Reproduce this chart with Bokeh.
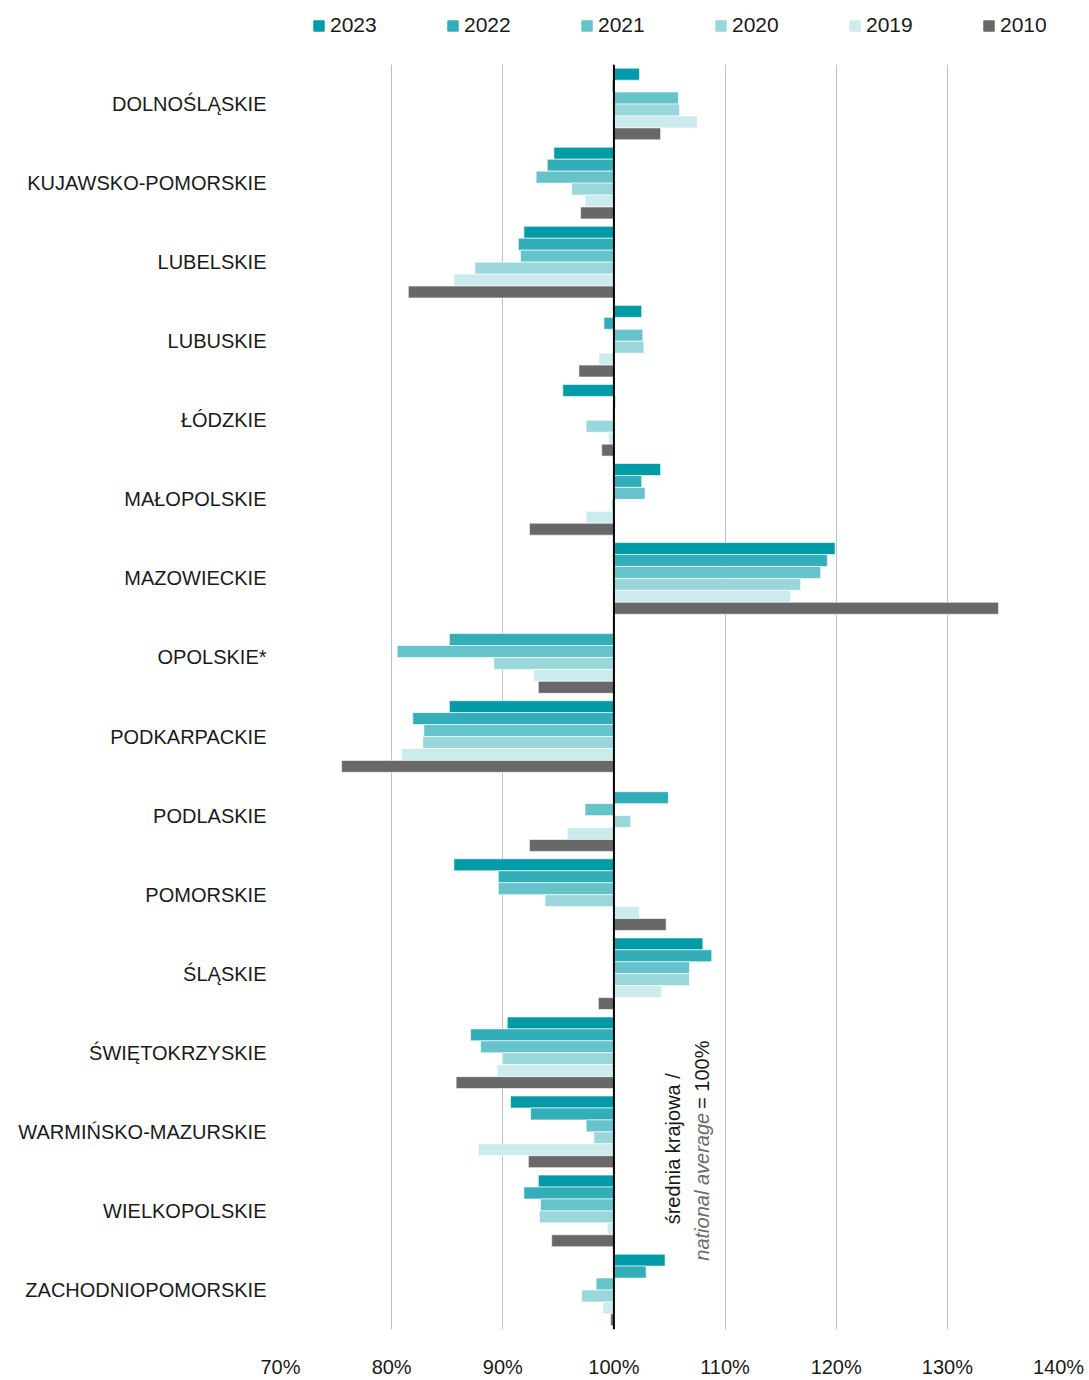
import math
from bokeh.plotting import figure
from bokeh.layouts import column
from bokeh.models import (Range1d, FactorRange, FixedTicker, PrintfTickFormatter, Span,
                          Legend, LegendItem, ColumnDataSource)
from bokeh.transform import dodge
from bokeh.core.properties import value
from bokeh.embed import file_html
from bokeh.resources import INLINE

NaN = float("nan")

regions = ["DOLNOŚLĄSKIE", "KUJAWSKO-POMORSKIE", "LUBELSKIE", "LUBUSKIE", "ŁÓDZKIE",
           "MAŁOPOLSKIE", "MAZOWIECKIE", "OPOLSKIE*", "PODKARPACKIE", "PODLASKIE",
           "POMORSKIE", "ŚLĄSKIE", "ŚWIĘTOKRZYSKIE", "WARMIŃSKO-MAZURSKIE",
           "WIELKOPOLSKIE", "ZACHODNIOPOMORSKIE"]

years = ["2023", "2022", "2021", "2020", "2019", "2010"]

v2023 = [102.3, 94.6, 91.9, 102.5, 95.4, 104.2, 119.9, NaN, 85.2, NaN,
         85.6, 108.0, 90.4, 90.7, 93.2, 104.6]
v2022 = [99.85, 94.0, 91.4, 99.1, 100.15, 102.5, 119.2, 85.2, 81.9, 104.9,
         89.6, 108.8, 87.1, 92.5, 91.9, 102.9]
v2021 = [105.8, 93.0, 91.6, 102.6, 99.9, 102.8, 118.6, 80.5, 82.9, 97.4,
         89.6, 106.8, 88.0, 97.5, 93.4, 98.4]
v2020 = [105.9, 96.2, 87.5, 102.7, 97.5, 99.8, 116.8, 89.2, 82.8, 101.5,
         93.8, 106.8, 90.0, 98.2, 93.3, 97.1]
v2019 = [107.5, 97.4, 85.6, 98.65, 99.5, 97.5, 115.9, 92.8, 80.9, 95.8,
         102.3, 104.3, 89.5, 87.8, 99.4, 99.0]
v2010 = [104.2, 97.0, 81.5, 96.85, 98.9, 92.4, 134.6, 93.2, 75.5, 92.4,
         104.7, 98.6, 85.8, 92.3, 94.4, 99.7]

series = [v2023, v2022, v2021, v2020, v2019, v2010]
colors = ["#009BA6", "#33AEB8", "#66C3CA", "#99D7DB", "#CCEBED", "#696868"]

x_ticks = [70, 80, 90, 100, 110, 120, 130, 140]

FONT = "Liberation Sans"

# ---------- legend strip (frame aligned with the chart frame below) ----------
lg = figure(width=1089, height=64, x_range=Range1d(70, 140), y_range=Range1d(0, 1),
            output_backend="svg", toolbar_location=None, title=None,
            min_border_left=0, min_border_right=0, min_border_top=0, min_border_bottom=0)
lg.outline_line_color = None
lg.axis.visible = False
lg.grid.visible = False
items = []
for yr, col in zip(years, colors):
    # placeholder glyph outside the visible y range; used only for the legend swatch
    r = lg.hbar(y=[-5], left=[100], right=[100], height=0.5, fill_color=col, line_color=col)
    items.append(LegendItem(label=yr, renderers=[r]))
legend = Legend(items=items, orientation="horizontal", location=(32, 27),
                glyph_width=13, glyph_height=13, label_standoff=5,
                label_width=50, spacing=66, padding=0, margin=0,
                border_line_color=None, background_fill_alpha=0,
                label_text_font=FONT, label_text_font_size="21px",
                label_text_color="#1a1a1a")
lg.add_layout(legend, "center")

# ---------- main chart ----------
p = figure(width=1089, height=1316,
           y_range=FactorRange(*list(reversed(regions))),
           x_range=Range1d(70, 140),
           output_backend="svg", toolbar_location=None, title=None,
           min_border_left=280, min_border_right=31,
           min_border_top=0, min_border_bottom=44)
p.outline_line_color = None
p.background_fill_color = "white"

bar_h = 0.151
for i, (yr, vals, col) in enumerate(zip(years, series, colors)):
    src = ColumnDataSource(dict(region=regions, val=vals))
    off = (2.5 - i) * bar_h
    p.hbar(y=dodge("region", off, range=p.y_range), left=100, right="val",
           height=bar_h, source=src, fill_color=col, line_color="white",
           line_width=0.6)

# grid
p.xgrid.ticker = FixedTicker(ticks=x_ticks)
p.xgrid.grid_line_color = "#C0C0C0"
p.xgrid.grid_line_width = 1
p.ygrid.grid_line_color = None

# 100% reference line
p.add_layout(Span(location=100, dimension="height", line_color="black", line_width=2))

# x axis
p.xaxis.ticker = FixedTicker(ticks=x_ticks)
p.xaxis.formatter = PrintfTickFormatter(format="%d%%")
p.xaxis.axis_line_color = None
p.xaxis.major_tick_line_color = None
p.xaxis.minor_tick_line_color = None
p.xaxis.major_label_text_font = FONT
p.xaxis.major_label_text_font_size = "20px"
p.xaxis.major_label_text_color = "#1a1a1a"
p.xaxis.major_label_standoff = 20

# y axis
p.yaxis.axis_line_color = None
p.yaxis.major_tick_line_color = None
p.yaxis.minor_tick_line_color = None
p.yaxis.major_label_text_font = FONT
p.yaxis.major_label_text_font_size = "20px"
p.yaxis.major_label_text_color = "#1a1a1a"
p.yaxis.major_label_standoff = 8

# annotation text (rotated)
ann1 = ColumnDataSource(dict(region=["WIELKOPOLSKIE"], x=[105.3], t=["średnia krajowa /"]))
p.text(x="x", y=dodge("region", -0.17, range=p.y_range), text="t", source=ann1,
       angle=math.pi / 2, text_align="left", text_baseline="middle",
       text_font=value(FONT), text_font_size="20px", text_color="#1a1a1a")
ann2 = ColumnDataSource(dict(region=["WIELKOPOLSKIE"], x=[107.9], t=["national average"]))
p.text(x="x", y=dodge("region", -0.63, range=p.y_range), text="t", source=ann2,
       angle=math.pi / 2, text_align="left", text_baseline="middle",
       text_font=value(FONT), text_font_size="20px", text_font_style="italic",
       text_color="#6b6b6b")
ann3 = ColumnDataSource(dict(region=["WIELKOPOLSKIE"], x=[107.9], t=["= 100%"]))
p.text(x="x", y=dodge("region", 1.29, range=p.y_range), text="t", source=ann3,
       angle=math.pi / 2, text_align="left", text_baseline="middle",
       text_font=value(FONT), text_font_size="20px", text_color="#1a1a1a")

layout = column(lg, p, spacing=0)
open("out.html", "w").write(file_html(layout, INLINE))
